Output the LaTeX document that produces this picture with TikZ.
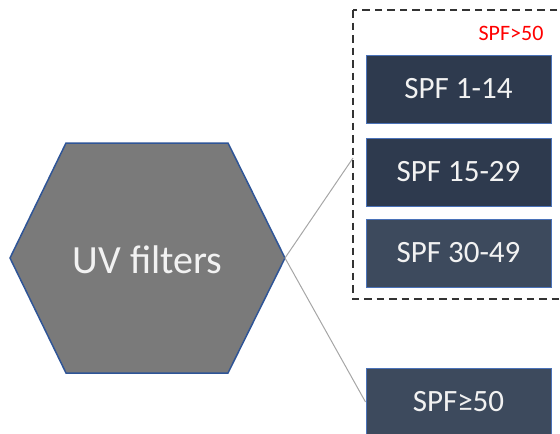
\documentclass[tikz,border=0pt]{standalone}
\usepackage{fontspec}
\setmainfont{Carlito}
\begin{document}
\begin{tikzpicture}[x=1pt,y=-1pt,
  spfbox/.style={draw=boxedge,line width=1pt,minimum width=185pt,minimum height=68pt,
    inner sep=0pt,text=boxtext,font=\fontsize{31}{31}\selectfont},
  link/.style={draw=linkgray,line width=1pt},
  group/.style={draw=dashgray,line width=2.4pt,dash pattern=on 7.5pt off 5pt}]
\definecolor{boxedge}{HTML}{4A72B8}
\definecolor{boxtext}{HTML}{F2F2F2}
\definecolor{darkbox}{HTML}{2E3A4E}
\definecolor{midbox}{HTML}{3D4A5D}
\definecolor{hexfill}{HTML}{7A7A7A}
\definecolor{hexedge}{HTML}{2F5597}
\definecolor{linkgray}{HTML}{A6A6A6}
\definecolor{dashgray}{HTML}{333333}
\useasboundingbox (0,0) rectangle (560,434);
\clip (0,0) rectangle (560,434);

% hexagon
\coordinate (hL) at (10,258);
\coordinate (hTL) at (66,143);
\coordinate (hTR) at (228,143);
\coordinate (hR) at (285,258);
\coordinate (hBR) at (228,373);
\coordinate (hBL) at (66,373);
\filldraw[fill=hexfill,draw=hexedge,line width=1.5pt,line join=miter]
  (hL) -- (hTL) -- (hTR) -- (hR) -- (hBR) -- (hBL) -- cycle;
\node[text=boxtext,font=\fontsize{40}{40}\selectfont] (uv) at (147.5,260) {UV filters};

% dashed group
\draw[group] (353,10) rectangle (566,299);
\coordinate (gin) at (353,158);
\node[text=red,font=\fontsize{22}{22}\selectfont,anchor=east] (gt) at (547,33) {SPF>50};

% range boxes
\node[spfbox,fill=darkbox] (b1) at (458.5,89) {SPF 1-14};
\node[spfbox,fill=darkbox] (b2) at (458.5,172) {SPF 15-29};
\node[spfbox,fill=midbox] (b3) at (458.5,253) {SPF 30-49};
\node[spfbox,fill=midbox] (b4) at (458.5,402) {SPF≥50};

% connectors
\draw[link] (hR) -- (gin);
\draw[link] (hR) -- (b4.west);
\end{tikzpicture}
\end{document}
